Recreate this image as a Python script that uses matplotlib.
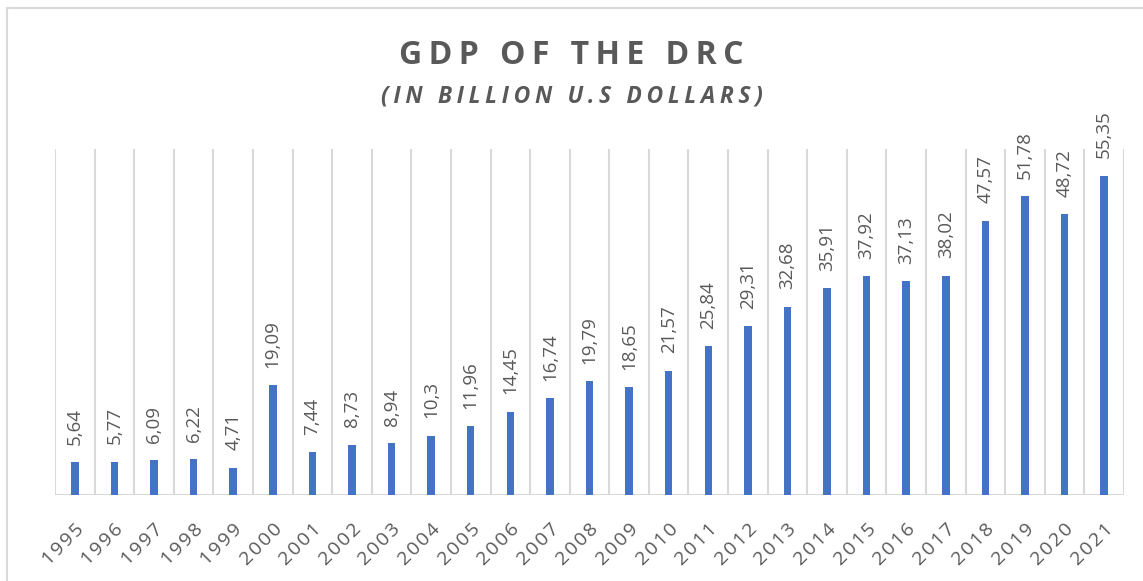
import numpy as np
import matplotlib.pyplot as plt
from matplotlib.lines import Line2D

# GDP of the DRC, billion USD
years = [str(y) for y in range(1995, 2022)]
gdp = [5.64, 5.77, 6.09, 6.22, 4.71, 19.09, 7.44, 8.73, 8.94, 10.3,
       11.96, 14.45, 16.74, 19.79, 18.65, 21.57, 25.84, 29.31, 32.68, 35.91,
       37.92, 37.13, 38.02, 47.57, 51.78, 48.72, 55.35]
value_labels = ["5,64", "5,77", "6,09", "6,22", "4,71", "19,09", "7,44", "8,73",
                "8,94", "10,3", "11,96", "14,45", "16,74", "19,79", "18,65",
                "21,57", "25,84", "29,31", "32,68", "35,91", "37,92", "37,13",
                "38,02", "47,57", "51,78", "48,72", "55,35"]

plt.rcParams['font.family'] = ['Open Sans', 'DejaVu Sans']


def spaced(s, gap='\u2009'):
    # mimic the letter tracking of the original
    return gap.join(s)


W, H = 1143, 581
fig = plt.figure(figsize=(W / 100, H / 100), dpi=100)

bar_color = '#4472C4'
grid_color = '#D9D9D9'
text_color = '#595959'

ax = fig.add_axes([55 / W, (H - 495) / H, (1124 - 55) / W, (495 - 149) / H])
x = np.arange(len(years))
ax.bar(x, gdp, width=0.19, color=bar_color, zorder=3)

ax.set_xlim(-0.5, len(years) - 0.5)
ax.set_ylim(0, 60)

# vertical gridlines between categories
for b in np.arange(-0.5, len(years), 1.0):
    ax.axvline(b, color=grid_color, linewidth=1.5, zorder=1)
ax.axhline(0, color=grid_color, linewidth=1.5, zorder=2)

for s in ax.spines.values():
    s.set_visible(False)
ax.set_yticks([])
ax.set_xticks(x)
ax.set_xticklabels([spaced(y, '\u200a') for y in years], rotation=45,
                   ha='right', va='top', rotation_mode='anchor', fontsize=14,
                   color=text_color)
ax.tick_params(axis='x', length=0, pad=18)

# value labels above bars
for xi, v, lab in zip(x, gdp, value_labels):
    ax.annotate(lab, (xi, v), xytext=(0, 12.5), textcoords='offset points',
                rotation=90, ha='center', va='bottom',
                fontsize=13.5, color=text_color)

# titles
fig.text(0.5, 1 - 56 / H, spaced('GDP OF THE DRC'),
         ha='center', va='center', fontsize=23, fontweight='bold',
         color=text_color)
fig.text(0.5, 1 - 97 / H, spaced('(IN BILLION U.S DOLLARS)'),
         ha='center', va='center', fontsize=16.5, fontweight='bold',
         fontstyle='italic', color=text_color)

# chart border (partly cropped in the reference)
fig.add_artist(Line2D([7 / W, 7 / W], [0, 1 - 8 / H], transform=fig.transFigure,
                      color=grid_color, linewidth=1.5))
fig.add_artist(Line2D([7 / W, 1], [1 - 8 / H, 1 - 8 / H], transform=fig.transFigure,
                      color=grid_color, linewidth=1.5))

# cropped caption letter at the very top
fig.text(9 / W, 1 + 4 / H, 'g', ha='left', va='baseline', fontsize=14,
         color='black')

fig.savefig('out.png', dpi=100)
